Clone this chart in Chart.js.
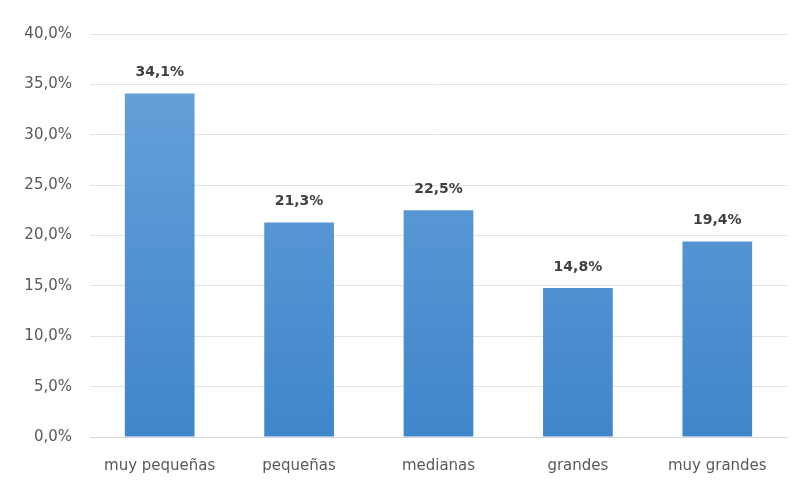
<!DOCTYPE html>
<html>
<head>
<meta charset="utf-8">
<script src="https://cdn.jsdelivr.net/npm/chart.js@4/dist/chart.umd.min.js"></script>
<style>
  html, body { margin: 0; padding: 0; background: #fff; }
  #wrap { width: 797px; height: 482px; }
</style>
</head>
<body>
<div id="wrap"><canvas id="chart" width="797" height="482"></canvas></div>
<script>
// datos del gráfico
const categorias = ['muy pequeñas', 'pequeñas', 'medianas', 'grandes', 'muy grandes'];
const valores = [34.1, 21.3, 22.5, 14.8, 19.4];
const ejeMin = 0, ejeMax = 40, ejePaso = 5;

const fmt = v => v.toFixed(1).replace('.', ',') + '%';
const FONT = '"DejaVu Sans", sans-serif';

// etiquetas encima de cada barra
const etiquetasPlugin = {
  id: 'etiquetas',
  afterDatasetsDraw(chart) {
    const ctx = chart.ctx;
    const meta = chart.getDatasetMeta(0);
    ctx.save();
    ctx.font = 'bold 14px ' + FONT;
    ctx.fillStyle = '#404040';
    ctx.textAlign = 'center';
    ctx.textBaseline = 'middle';
    meta.data.forEach((bar, i) => {
      ctx.fillText(fmt(valores[i]), bar.x, bar.y - 21);
    });
    ctx.restore();
  }
};

const ctx = document.getElementById('chart').getContext('2d');
const grad = ctx.createLinearGradient(0, 34, 0, 437);
grad.addColorStop(0, '#6ba3db');
grad.addColorStop(1, '#3f86cb');

new Chart(ctx, {
  type: 'bar',
  data: {
    labels: categorias,
    datasets: [{
      data: valores,
      backgroundColor: grad,
      borderWidth: 0,
      categoryPercentage: 1,
      barPercentage: 0.5
    }]
  },
  options: {
    responsive: false,
    animation: false,
    layout: { padding: { top: 34, right: 10, left: 0, bottom: 0 } },
    plugins: { legend: { display: false }, tooltip: { enabled: false } },
    scales: {
      x: {
        grid: { display: false },
        border: { color: '#d9d9d9', width: 1 },
        ticks: { color: '#595959', font: { family: FONT, size: 15 }, padding: 12 },
        afterFit(scale) { scale.height = 45; }
      },
      y: {
        min: ejeMin, max: ejeMax,
        ticks: {
          stepSize: ejePaso,
          color: '#595959',
          font: { family: FONT, size: 15 },
          padding: 18,
          callback: v => fmt(v)
        },
        grid: { color: '#e3e3e3', drawTicks: false },
        border: { display: false },
        afterFit(scale) { scale.width = 90; }
      }
    }
  },
  plugins: [etiquetasPlugin]
});
</script>
</body>
</html>
